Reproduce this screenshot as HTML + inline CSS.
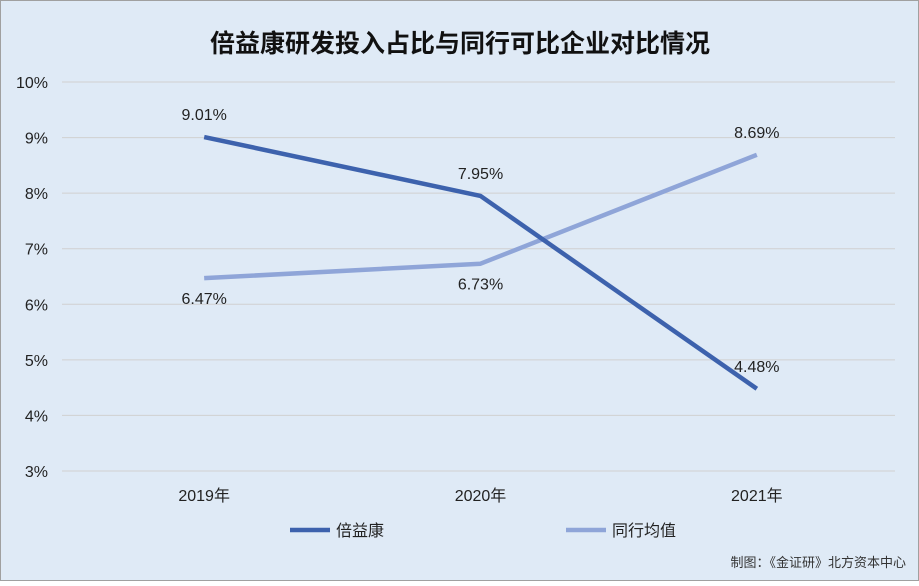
<!DOCTYPE html>
<html><head><meta charset="utf-8"><style>
body{margin:0;width:919px;height:581px;overflow:hidden;font-family:"Liberation Sans","Noto Sans CJK SC",sans-serif}
</style></head><body>
<svg width="919" height="581" xmlns="http://www.w3.org/2000/svg">
<rect x="0.5" y="0.5" width="918" height="580" fill="#dfeaf6" stroke="#a0a0a0"/>
<text x="460" y="52" text-anchor="middle" font-size="25" font-weight="bold" fill="#111" font-family="Liberation Sans,Noto Sans CJK SC,sans-serif">倍益康研发投入占比与同行可比企业对比情况</text>
<g id="grid"></g><g id="series"></g>
<line x1="290" y1="530" x2="330" y2="530" stroke="#3d62ad" stroke-width="4.5"/>
<text x="336" y="536" font-size="16" fill="#222">倍益康</text>
<line x1="566" y1="530" x2="606" y2="530" stroke="#8fa5d8" stroke-width="4.5"/>
<text x="612" y="536" font-size="16" fill="#222">同行均值</text>
<text x="906" y="567" text-anchor="end" font-size="13" fill="#333">制图：《金证研》北方资本中心</text>
</svg>
<script>
const categories=["2019年","2020年","2021年"];
const seriesCompany=[9.01,7.95,4.48];
const seriesPeer=[6.47,6.73,8.69];
const yTicks=[3,4,5,6,7,8,9,10];
const NS="http://www.w3.org/2000/svg";
const y=v=>471-(v-3)*(471-82)/7;
const x=i=>66+(i+0.5)*(895-66)/categories.length;
function mk(tag,attrs,parent,text){const e=document.createElementNS(NS,tag);for(const k in attrs)e.setAttribute(k,attrs[k]);if(text!==undefined)e.textContent=text;parent.appendChild(e);return e;}
const g=document.getElementById('grid'),s=document.getElementById('series');
yTicks.forEach(t=>{
 const l=mk('line',{x1:62,x2:895,y1:y(t),y2:y(t),stroke:'#d0d0d0','stroke-width':1},g);
 
 
 const tx=mk('text',{x:48,y:y(t)+6,'text-anchor':'end','font-size':16,fill:'#222'},g,t+'%');
 
 
});
categories.forEach((c,i)=>{
 const tx=mk('text',{x:x(i),y:501,'text-anchor':'middle','font-size':16,fill:'#222'},g,c);
 
 
});
function draw(vals,color,name,labelAbove){
 const p=mk('polyline',{points:vals.map((v,i)=>x(i)+','+y(v)).join(' '),fill:'none',stroke:color,'stroke-width':4.5,'stroke-linejoin':'round'},s);
 
 
 vals.forEach((v,i)=>{
  const above=labelAbove(i);
  const tx=mk('text',{x:x(i),y:above?y(v)-17:y(v)+26,'text-anchor':'middle','font-size':16,fill:'#222'},s,v.toFixed(2)+'%');
  
  
 });
}
draw(seriesPeer,'#8fa5d8','peer-average',i=>seriesPeer[i]>=seriesCompany[i]);
draw(seriesCompany,'#3d62ad','beiyikang',i=>seriesCompany[i]>seriesPeer[i]||true);
</script>
</body></html>
